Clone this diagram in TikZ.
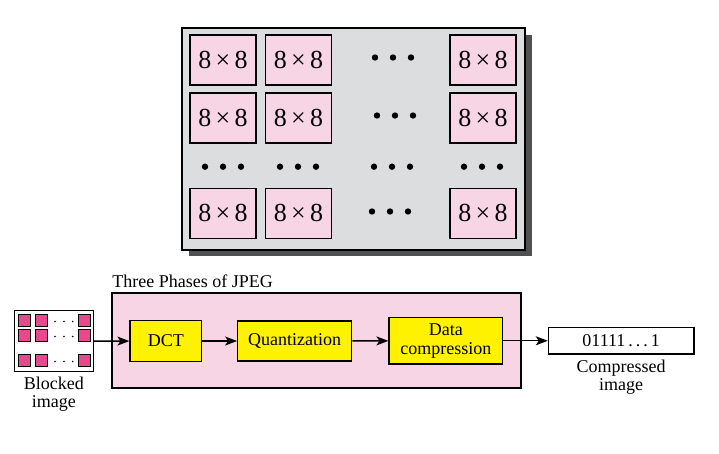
\documentclass[tikz,border=0pt]{standalone}
\usepackage{fontspec}
\setmainfont{Liberation Serif}
\usepackage{xcolor}
\usepackage{tikz}
\usetikzlibrary{arrows,arrows.meta,shapes,positioning}

\definecolor{blkpink}{HTML}{F8D5E5}
\definecolor{panelgray}{HTML}{DCDDDE}
\definecolor{shadowgray}{HTML}{505050}
\definecolor{phyellow}{HTML}{FFF200}
\definecolor{sqmag}{HTML}{E8488C}

\tikzset{
    blk/.style={draw, line width=0.7pt, fill=blkpink, minimum width=33pt, minimum height=25pt,
        inner sep=0pt, font=\fontsize{13}{14}\selectfont},
    phase/.style={draw, line width=0.6pt, fill=phyellow, inner sep=0pt, align=center,
        font=\fontsize{9}{9.5}\selectfont},
    sq/.style={draw, line width=0.4pt, fill=sqmag, minimum size=6pt, inner sep=0pt},
    lbl/.style={align=center, inner sep=0pt, font=\fontsize{9}{8.6}\selectfont},
    flow/.style={-{Stealth[length=6pt,width=4.5pt,inset=1.5pt]}, line width=0.7pt},
}

\begin{document}
\begin{tikzpicture}[x=0.5pt, y=-0.5pt]
        \useasboundingbox (0,0) rectangle (719,454);

        \fill[shadowgray] (189,35) rectangle (532,256);
        \draw[line width=0.7pt, fill=panelgray] (182,28) rectangle (525,250);

        \node[blk] (b11) at (223,60) {8\,×\,8};
        \node[blk] (b12) at (298.5,60) {8\,×\,8};
        \node[blk] (b14) at (483,60) {8\,×\,8};
        \node[blk] (b21) at (223,118) {8\,×\,8};
        \node[blk] (b22) at (298.5,118) {8\,×\,8};
        \node[blk] (b24) at (483,118) {8\,×\,8};
        \node[blk] (b41) at (223,213.3) {8\,×\,8};
        \node[blk] (b42) at (298.5,213.3) {8\,×\,8};
        \node[blk] (b44) at (483,213.3) {8\,×\,8};

        \foreach \cx/\cy in {393/57.5, 395/115.5, 223/166.7, 298/166.7, 392/166.7, 482/166.7, 390/211.5}
            \foreach \d in {-18,0,18}
                \fill (\cx+\d,\cy) circle (1.6pt);

        \node[draw, line width=0.7pt, fill=blkpink, minimum width=204.5pt, minimum height=47.5pt]
            (phases) at (316.5,340.5) {};
        \node[anchor=south west, inner sep=0pt, font=\fontsize{9}{10}\selectfont]
            (title) at (112,288) {Three Phases of JPEG};

        \node[draw, line width=0.7pt, fill=white, minimum width=39.5pt, minimum height=30.5pt]
            (blocked) at (53.8,341.2) {};
        \foreach \ry in {320,335,360} {
            \node[sq] at (24,\ry) {};
            \node[sq] at (41.7,\ry) {};
            \node[sq] at (84.3,\ry) {};
            \foreach \dx in {55,64,72.7}
                \fill (\dx,\ry+1.5) circle (0.45pt);
        }
        \node[lbl, anchor=north] (blockedlbl) at (53.8,377) {Blocked\\image};

        \node[phase, minimum width=35.8pt, minimum height=20.2pt] (dct) at (165.8,341) {DCT};
        \node[phase, minimum width=57pt, minimum height=20pt] (quant) at (294.7,341) {Quantization};
        \node[phase, minimum width=56.8pt, minimum height=23.2pt] (data) at (445.8,340.8) {Data\\compression};

        \node[draw, line width=0.6pt, fill=white, minimum width=72.8pt, minimum height=13.2pt,
            inner sep=0pt, font=\fontsize{9}{10}\selectfont] (comp) at (621.2,340.8) {01111\,.\,.\,.\,1};
        \node[lbl, anchor=north] (complbl) at (621.2,360) {Compressed\\image};

        \draw[flow] (blocked) -- (dct);
        \draw[flow] (dct) -- (quant);
        \draw[flow] (quant) -- (data);
        \draw[flow] (data) -- (comp);

    \end{tikzpicture}
\end{document}
